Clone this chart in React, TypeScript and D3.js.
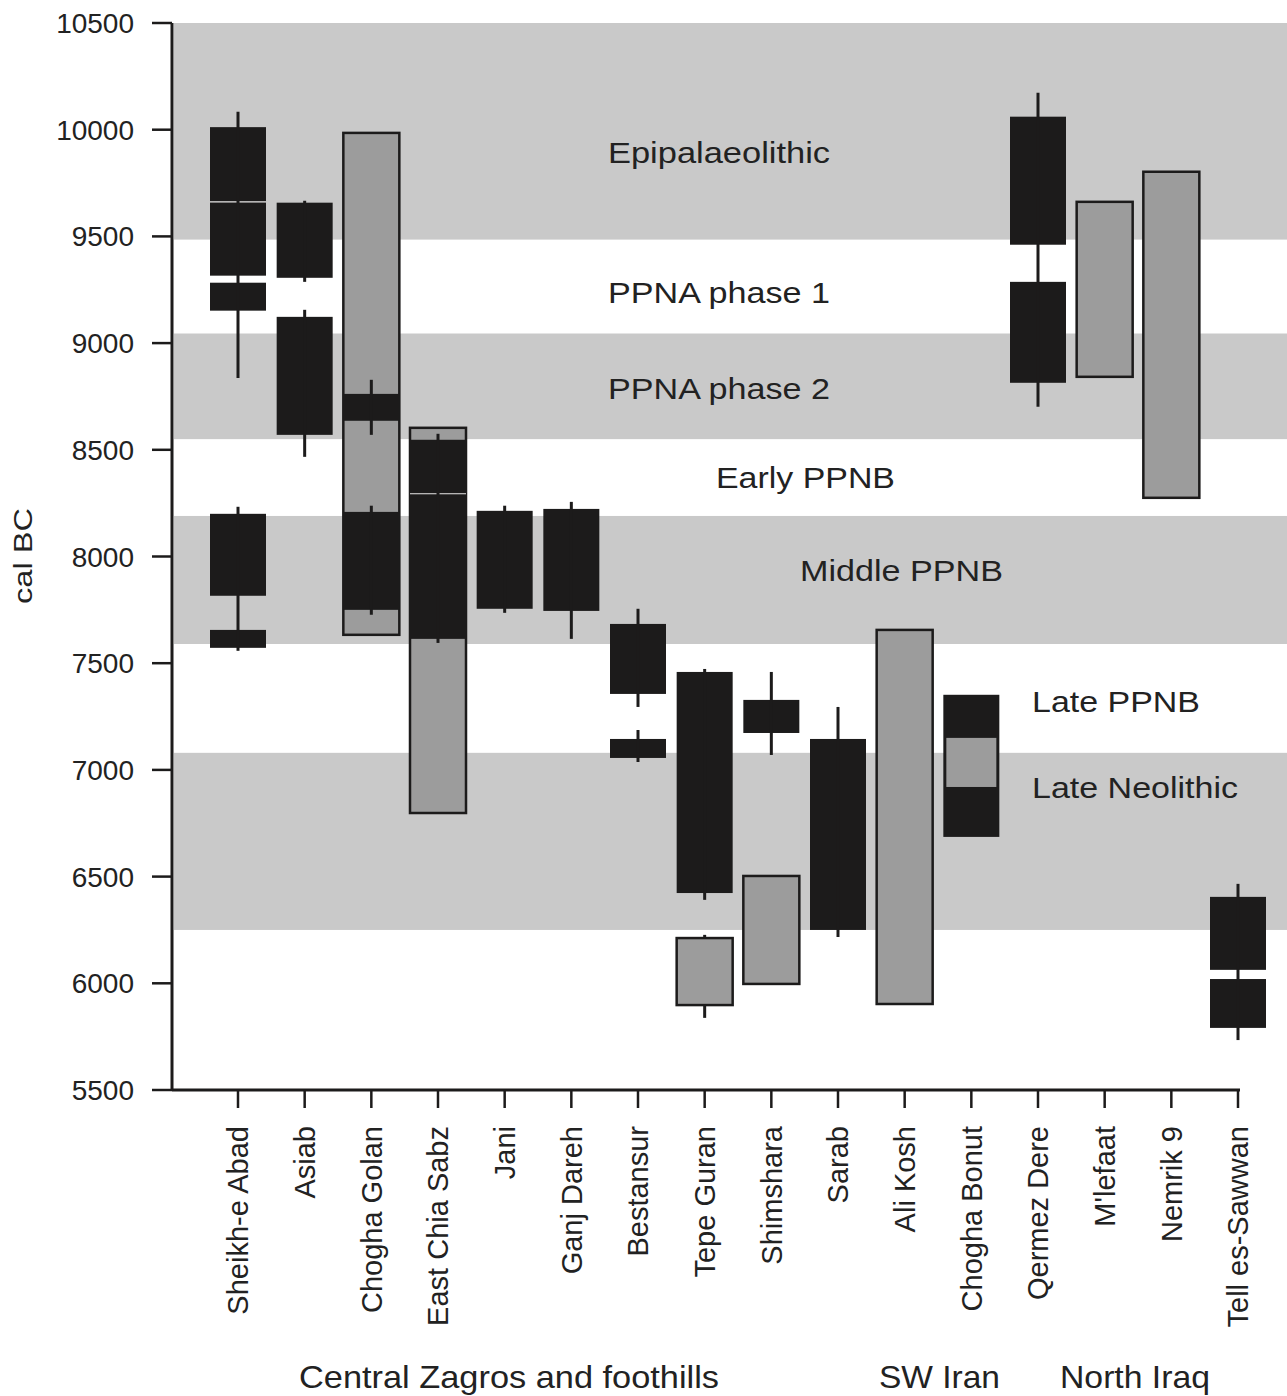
import React from "react";
import * as d3 from "d3";

// ---- data ----
const sites = [
  "Sheikh-e Abad", "Asiab", "Chogha Golan", "East Chia Sabz", "Jani", "Ganj Dareh",
  "Bestansur", "Tepe Guran", "Shimshara", "Sarab", "Ali Kosh", "Chogha Bonut",
  "Qermez Dere", "M'lefaat", "Nemrik 9", "Tell es-Sawwan",
];

const yTicks = [5500, 6000, 6500, 7000, 7500, 8000, 8500, 9000, 9500, 10000, 10500];

// periods: [name, lower, upper, shaded]
const periods: [string, number, number, boolean][] = [
  ["Epipalaeolithic", 9485, 10500, true],
  ["PPNA phase 1", 9045, 9485, false],
  ["PPNA phase 2", 8550, 9045, true],
  ["Early PPNB", 8190, 8550, false],
  ["Middle PPNB", 7590, 8190, true],
  ["Late PPNB", 7080, 7590, false],
  ["Late Neolithic", 6250, 7080, true],
];

// grey (outlined) date ranges: [site, lower, upper]
const greyBoxes: [string, number, number][] = [
  ["Chogha Golan", 7633, 9985],
  ["East Chia Sabz", 6798, 8603],
  ["Tepe Guran", 5898, 6212],
  ["Shimshara", 5997, 6503],
  ["Ali Kosh", 5903, 7656],
  ["M'lefaat", 8842, 9662],
  ["Nemrik 9", 8275, 9803],
];

// dark date ranges: [site, lower, upper]
const darkBoxes: [string, number, number][] = [
  ["Sheikh-e Abad", 9316, 10012],
  ["Sheikh-e Abad", 9152, 9283],
  ["Sheikh-e Abad", 7816, 8200],
  ["Sheikh-e Abad", 7572, 7656],
  ["Asiab", 9306, 9658],
  ["Asiab", 8570, 9123],
  ["Chogha Golan", 8636, 8762],
  ["Chogha Golan", 7750, 8209],
  ["East Chia Sabz", 7614, 8547],
  ["Jani", 7755, 8214],
  ["Ganj Dareh", 7745, 8223],
  ["Bestansur", 7356, 7684],
  ["Bestansur", 7056, 7145],
  ["Tepe Guran", 6423, 7459],
  ["Shimshara", 7173, 7328],
  ["Sarab", 6250, 7145],
  ["Chogha Bonut", 6686, 7352],
  ["Qermez Dere", 9461, 10061],
  ["Qermez Dere", 8814, 9287],
  ["Tell es-Sawwan", 6063, 6405],
  ["Tell es-Sawwan", 5791, 6020],
];

// grey ranges nested inside dark ranges
const innerGrey: [string, number, number][] = [
  ["Chogha Bonut", 6920, 7150],
];

// whiskers: [site, lower, upper]
const whiskers: [string, number, number][] = [
  ["Sheikh-e Abad", 8837, 10084],
  ["Sheikh-e Abad", 7558, 8233],
  ["Asiab", 9287, 9667],
  ["Asiab", 8467, 9156],
  ["Chogha Golan", 8570, 8828],
  ["Chogha Golan", 7727, 8238],
  ["East Chia Sabz", 7595, 8575],
  ["Jani", 7736, 8238],
  ["Ganj Dareh", 7614, 8256],
  ["Bestansur", 7295, 7755],
  ["Bestansur", 7037, 7187],
  ["Tepe Guran", 6391, 7473],
  ["Tepe Guran", 6212, 6227],
  ["Tepe Guran", 5838, 5898],
  ["Shimshara", 7070, 7459],
  ["Sarab", 6217, 7295],
  ["Qermez Dere", 8702, 10173],
  ["Tell es-Sawwan", 5734, 6466],
];

// thin white dividers inside dark ranges: [site, value]
const dividers: [string, number][] = [
  ["Sheikh-e Abad", 9662],
  ["East Chia Sabz", 8294],
];

const regions = ["Central Zagros and foothills", "SW Iran", "North Iraq"];
const yAxisTitle = "cal BC";

// ---- layout ----
const W = 1287;
const H = 1396;
const FONT = "'Liberation Sans', Arial, Helvetica, sans-serif";
const BAND = "#c9c9c9";
const DARK = "#1c1b1b";
const GREY = "#9c9c9c";
const BOX_W = 56;

// period label placement (x start, baseline, text length)
const periodLabelPos: [number, number, number][] = [
  [608, 163, 222],
  [608, 303, 222],
  [608, 399, 222],
  [716, 488, 179],
  [800, 581, 203],
  [1032, 712, 168],
  [1032, 798, 206],
];
// region label placement (x start, text length)
const regionLabelPos: [number, number][] = [
  [299, 420],
  [879, 121],
  [1060, 150],
];

export default function App() {
  const y = d3.scaleLinear().domain([5500, 10500]).range([1090, 23]);
  const x = d3.scalePoint<string>().domain(sites).range([238, 1238]);
  const axisX = 172;
  const axisY = y(5500);

  return (
    <svg
      width={W}
      height={H}
      style={{ position: "absolute", left: 0, top: 0, display: "block", background: "#fff" }}
      fontFamily={FONT}
    >
      <rect x={0} y={0} width={W} height={H} fill="#fff" />
      {/* period bands */}
      {periods.map(([name, lo, hi, shaded]) =>
        shaded ? (
          <rect key={name} x={axisX + 2} y={y(hi)} width={W - axisX - 2} height={y(lo) - y(hi)} fill={BAND} />
        ) : null
      )}
      {/* period labels */}
      {periods.map(([name], i) => (
        <text
          key={"pl" + name}
          x={periodLabelPos[i][0]}
          y={periodLabelPos[i][1]}
          fontSize={29}
          fill="#222"
          textLength={periodLabelPos[i][2]}
          lengthAdjust="spacingAndGlyphs"
        >
          {name}
        </text>
      ))}
      {/* grey boxes */}
      {greyBoxes.map(([s, lo, hi], i) => (
        <rect
          key={"g" + i}
          x={(x(s) as number) - BOX_W / 2}
          y={y(hi)}
          width={BOX_W}
          height={y(lo) - y(hi)}
          fill={GREY}
          stroke={DARK}
          strokeWidth={2.5}
        />
      ))}
      {/* dark boxes */}
      {darkBoxes.map(([s, lo, hi], i) => (
        <rect
          key={"d" + i}
          x={(x(s) as number) - BOX_W / 2}
          y={y(hi)}
          width={BOX_W}
          height={y(lo) - y(hi)}
          fill={DARK}
        />
      ))}
      {innerGrey.map(([s, lo, hi], i) => (
        <rect
          key={"ig" + i}
          x={(x(s) as number) - BOX_W / 2 + 3}
          y={y(hi)}
          width={BOX_W - 6}
          height={y(lo) - y(hi)}
          fill={GREY}
        />
      ))}
      {dividers.map(([s, v], i) => (
        <line
          key={"dv" + i}
          x1={(x(s) as number) - BOX_W / 2}
          x2={(x(s) as number) + BOX_W / 2}
          y1={y(v)}
          y2={y(v)}
          stroke="#e8e8e8"
          strokeWidth={1.2}
        />
      ))}
      {/* whiskers */}
      {whiskers.map(([s, lo, hi], i) => (
        <line
          key={"w" + i}
          x1={x(s) as number}
          x2={x(s) as number}
          y1={y(lo)}
          y2={y(hi)}
          stroke={DARK}
          strokeWidth={3}
        />
      ))}
      {/* y axis */}
      <line x1={axisX} x2={axisX} y1={y(10500)} y2={axisY} stroke={DARK} strokeWidth={3} />
      {yTicks.map((t) => (
        <g key={"yt" + t}>
          <line x1={152} x2={axisX} y1={y(t)} y2={y(t)} stroke={DARK} strokeWidth={2.5} />
          <text x={134} y={y(t)} dy="0.36em" textAnchor="end" fontSize={28} fill="#222">
            {t}
          </text>
        </g>
      ))}
      <text
        transform={`translate(32,556) rotate(-90)`}
        textAnchor="middle"
        fontSize={25}
        fill="#222"
        textLength={96}
        lengthAdjust="spacingAndGlyphs"
      >
        {yAxisTitle}
      </text>
      {/* x axis */}
      <line x1={axisX} x2={1240} y1={axisY} y2={axisY} stroke={DARK} strokeWidth={3} />
      {sites.map((s) => (
        <g key={"xt" + s}>
          <line x1={x(s) as number} x2={x(s) as number} y1={axisY} y2={axisY + 18} stroke={DARK} strokeWidth={2.5} />
          <text
            transform={`translate(${x(s)},1126) rotate(-90)`}
            dy="0.36em"
            textAnchor="end"
            fontSize={29}
            fill="#222"
          >
            {s}
          </text>
        </g>
      ))}
      {/* region labels */}
      {regions.map((r, i) => (
        <text
          key={"r" + r}
          x={regionLabelPos[i][0]}
          y={1388}
          fontSize={32}
          fill="#222"
          textLength={regionLabelPos[i][1]}
          lengthAdjust="spacingAndGlyphs"
        >
          {r}
        </text>
      ))}
    </svg>
  );
}
